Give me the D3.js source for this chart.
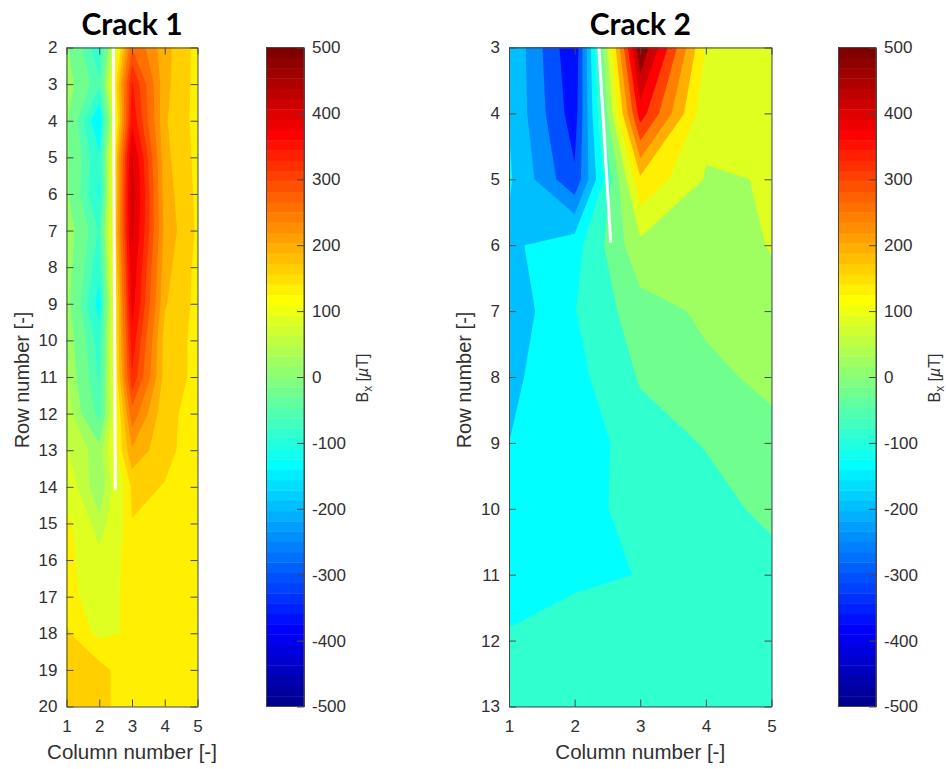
<!DOCTYPE html>
<html lang="en">
  <head>
    <meta charset="UTF-8" />
    <title>Crack 1 and Crack 2</title>
    <script src="https://cdnjs.cloudflare.com/ajax/libs/d3/7.8.5/d3.min.js"></script>
    <style>
      body {
        margin: 0;
        background: #fff;
      }
      svg text {
        font-family: 'Liberation Sans', Arial, sans-serif;
        fill: #303030;
      }
      .tick text {
        font-size: 17px;
      }
      .tick line,
      .domain {
        stroke: #484848;
      }
      .title {
        font-family: Lato, sans-serif !important;
        font-weight: 700;
        font-size: 30px;
        fill: #000 !important;
      }
    </style>
  </head>
  <body>
    <svg width="946" height="769"></svg>
    <script>
      const columns = [1, 2, 3, 4, 5];

      // Bx in uT, one row per row number
      const crack1Rows = d3.range(2, 21);
      const crack1Values = [
        [26, -81, 285, 201, 149],
        [40, -49, 350, 199, 149],
        [28, -127, 370, 194, 149],
        [26, -84, 425, 199, 151],
        [28, -95, 440, 205, 153],
        [45, -59, 430, 211, 155],
        [40, -79, 409, 201, 151],
        [36, -106, 397, 193, 151],
        [47, -73, 365, 178, 152],
        [55, -59, 341, 178, 152],
        [69, -39, 270, 168, 149],
        [83, 33, 216, 166, 149],
        [107, 26, 166, 159, 144],
        [145, 58, 159, 142, 139],
        [143, 95, 147, 139, 137],
        [147, 103, 146, 137, 137],
        [164, 121, 135, 137, 137],
        [178, 172, 137, 137, 137],
        [184, 172, 138, 137, 137],
      ];
      const crack1Levels = [-140, -90, -55, -25, 20, 50, 80, 130, 160, 190, 220, 250, 285, 315, 345, 380, 420];
      const crack1LineX = [2.43, 2.49];
      const crack1LineY = [2, 14.08];

      const crack2Rows = d3.range(3, 14);
      const crack2Values = [
        [-140, -356, 524, 132, 109],
        [-141, -336, 389, 97, 104],
        [-131, -296, 184, 79, 85],
        [-149, -106, 69, 54, 86],
        [-174, -86, 3, 37, 66],
        [-150, -102, -23, 15, 39],
        [-139, -123, -51, -25, 11],
        [-126, -101, -68, -46, -16],
        [-116, -91, -83, -61, -46],
        [-76, -66, -71, -61, -56],
        [-71, -64, -68, -58, -56],
      ];
      const crack2Levels = [-417, -361, -306, -250, -195, -139, -84, -28, 27, 83, 138, 194, 249, 305, 360, 416, 472];
      const crack2LineX = [2.37, 2.55];
      const crack2LineY = [3, 5.96];

      const barTicks = d3.range(-500, 501, 100);

      // MATLAB jet(64)
      const jet = d3.range(1, 65).map(k => {
        const ramp = c => Math.round(255 * Math.max(0, Math.min(1, c)));
        const r = ramp(Math.min((k - 24) / 16, (72 - k) / 16));
        const g = ramp(Math.min((k - 8) / 16, (56 - k) / 16));
        const b = ramp(Math.min((k + 8) / 16, (40 - k) / 16));
        return `rgb(${r},${g},${b})`;
      });
      const jetColor = d3.scaleQuantize().domain([-500, 500]).range(jet);

      const svg = d3.select('svg');
      const plotTop = 47.5,
        plotBottom = 706.5;

      function drawPanel(p) {
        const x = d3.scaleLinear().domain([1, 5]).range([p.left, p.right]);
        const y = d3
          .scaleLinear()
          .domain(d3.extent(p.rows))
          .range([plotTop, plotBottom]);

        svg
          .append('clipPath')
          .attr('id', p.id)
          .append('rect')
          .attr('x', p.left)
          .attr('y', plotTop)
          .attr('width', p.right - p.left)
          .attr('height', plotBottom - plotTop);

        // Grid node i sits at i + 0.5 in d3.contours space
        const project = d3.geoTransform({
          point(gx, gy) {
            this.stream.point(x(gx + 0.5), y(gy - 0.5 + p.rows[0]));
          },
        });
        const contours = d3
          .contours()
          .size([columns.length, p.rows.length])
          .thresholds(p.levels)(p.values.flat());

        const g = svg.append('g').attr('clip-path', `url(#${p.id})`);
        g.selectAll('path')
          .data(contours)
          .enter()
          .append('path')
          .attr('d', d3.geoPath(project))
          .attr('fill', d => jetColor(d.value));

        // Crack position
        g.append('path')
          .attr('d', d3.line().x(d => x(d[0])).y(d => y(d[1]))(d3.zip(p.lineX, p.lineY)))
          .attr('stroke', '#fff')
          .attr('stroke-width', 3)
          .attr('fill', 'none');

        // Frame: ticks point inward on all four sides
        const frame = svg.append('g');
        frame
          .append('g')
          .attr('transform', `translate(0,${plotBottom})`)
          .call(d3.axisBottom(x).tickValues(columns).tickFormat(String).tickSize(-7).tickSizeOuter(0).tickPadding(13));
        frame
          .append('g')
          .attr('transform', `translate(0,${plotTop})`)
          .call(d3.axisTop(x).tickValues(columns).tickFormat('').tickSize(-7).tickSizeOuter(0));
        frame
          .append('g')
          .attr('transform', `translate(${p.left},0)`)
          .call(d3.axisLeft(y).tickValues(p.rows).tickFormat(String).tickSize(-7).tickSizeOuter(0).tickPadding(9));
        frame
          .append('g')
          .attr('transform', `translate(${p.right},0)`)
          .call(d3.axisRight(y).tickValues(p.rows).tickFormat('').tickSize(-7).tickSizeOuter(0));

        svg
          .append('text')
          .attr('class', 'title')
          .attr('x', (p.left + p.right) / 2)
          .attr('y', 35)
          .attr('text-anchor', 'middle')
          .text(p.title);
        svg
          .append('text')
          .attr('x', (p.left + p.right) / 2)
          .attr('y', 759)
          .attr('text-anchor', 'middle')
          .style('font-size', '20.5px')
          .text('Column number [-]');
        svg
          .append('text')
          .attr('transform', `translate(${p.left - 38},${(plotTop + plotBottom) / 2 + 3}) rotate(-90)`)
          .attr('text-anchor', 'middle')
          .style('font-size', '20px')
          .text('Row number [-]');

        // Colorbar
        const v = d3.scaleLinear().domain([-500, 500]).range([plotBottom, plotTop]);
        const bar = svg.append('g');
        bar
          .selectAll('rect')
          .data(jet)
          .enter()
          .append('rect')
          .attr('x', p.barLeft)
          .attr('width', p.barRight - p.barLeft)
          .attr('y', (d, i) => v(-500 + ((i + 1) * 1000) / 64))
          .attr('height', (plotBottom - plotTop) / 64 + 0.4)
          .attr('fill', d => d);
        bar
          .append('rect')
          .attr('x', p.barLeft)
          .attr('y', plotTop)
          .attr('width', p.barRight - p.barLeft)
          .attr('height', plotBottom - plotTop)
          .attr('fill', 'none')
          .attr('stroke', '#484848');
        bar
          .append('g')
          .attr('transform', `translate(${p.barRight},0)`)
          .call(d3.axisRight(v).tickValues(barTicks).tickFormat(String).tickSize(-7).tickSizeOuter(0).tickPadding(8));

        const label = svg
          .append('text')
          .attr('transform', `translate(${p.barRight + 64},${(plotTop + plotBottom) / 2 + 1}) rotate(-90)`)
          .attr('text-anchor', 'middle')
          .style('font-size', '16px');
        label.append('tspan').text('B');
        label.append('tspan').attr('dy', 4).style('font-size', '12px').text('x');
        label.append('tspan').attr('dy', -4).text(' [');
        label.append('tspan').style('font-style', 'italic').text('\u00b5');
        label.append('tspan').text('T]');
      }

      drawPanel({
        id: 'crack1',
        title: 'Crack 1',
        rows: crack1Rows,
        values: crack1Values,
        levels: crack1Levels,
        lineX: crack1LineX,
        lineY: crack1LineY,
        left: 66.5,
        right: 197.5,
        barLeft: 266.5,
        barRight: 304,
      });
      drawPanel({
        id: 'crack2',
        title: 'Crack 2',
        rows: crack2Rows,
        values: crack2Values,
        levels: crack2Levels,
        lineX: crack2LineX,
        lineY: crack2LineY,
        left: 509,
        right: 771.5,
        barLeft: 838.5,
        barRight: 876,
      });
    </script>
  </body>
</html>
